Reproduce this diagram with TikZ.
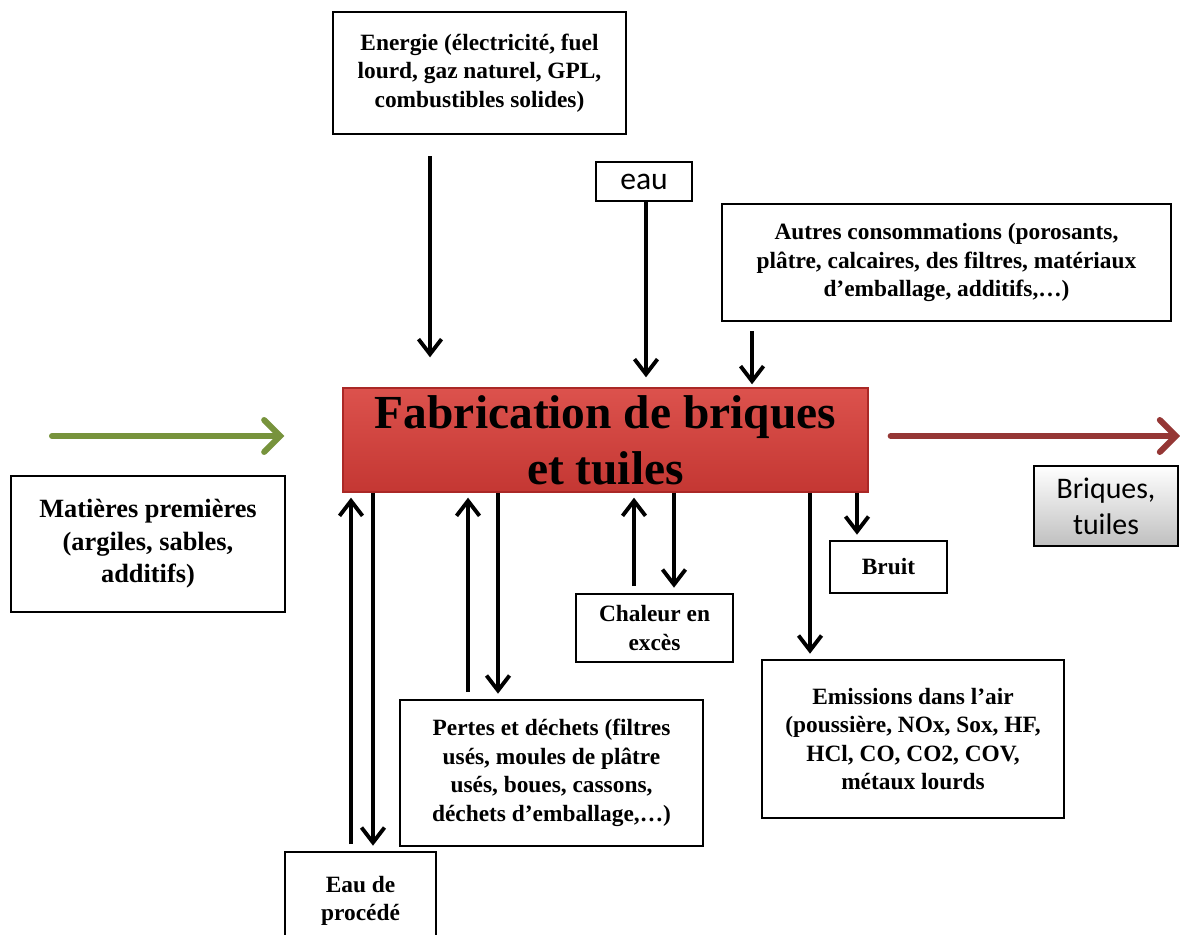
\documentclass[tikz,border=0pt]{standalone}
\usepackage{fontspec}
\setmainfont{Liberation Serif}
\newfontfamily\calibri{Carlito}
\usetikzlibrary{arrows.meta}

\definecolor{olive}{RGB}{119,147,60}
\definecolor{darkred}{RGB}{149,55,53}

\begin{document}
\begin{tikzpicture}[
  x=0.02cm,y=-0.02cm,
  arr/.style={line width=2.2pt,-{Straight Barb[length=3mm,width=4.6mm]}},
  box/.style={draw,line width=1.5pt,align=center,inner sep=0pt,font=\bfseries\fontsize{13.3}{16.2}\selectfont},
  flow/.style={line width=3.4pt,line cap=round,-{Straight Barb[length=3.2mm,width=6.4mm,line cap=round]}},
]
  \useasboundingbox (0,0) rectangle (1180,935);
  \node[box,minimum width=5.86cm,minimum height=2.44cm] (energie) at (479.5,73) {Energie (électricité, fuel\\lourd, gaz naturel, GPL,\\combustibles solides)};
  \node[box,line width=1.3pt,minimum width=1.92cm,minimum height=0.78cm,font=\calibri\fontsize{18}{21}\selectfont] (eau) at (644,181.5) {eau};
  \node[box,minimum width=8.98cm,minimum height=2.34cm] (autres) at (946.5,262.5) {Autres consommations (porosants,\\plâtre, calcaires, des filtres, matériaux\\d’emballage, additifs,\dots)};
  \node[box,draw={rgb,255:red,170;green,40;blue,38},line width=0.8pt,top color={rgb,255:red,220;green,82;blue,77},bottom color={rgb,255:red,196;green,55;blue,51},
    minimum width=10.5cm,minimum height=2.08cm,font=\bfseries\fontsize{27}{32}\selectfont] (main) at (605.5,440) {Fabrication de briques\\et tuiles};
  \node[box,line width=1.2pt,top color=white,bottom color=black!25,minimum width=2.88cm,minimum height=1.6cm,font=\calibri\fontsize{17}{20.5}\selectfont] (produit) at (1106,506) {Briques,\\tuiles};
  \node[box,minimum width=5.48cm,minimum height=2.72cm,font=\bfseries\fontsize{15}{18.5}\selectfont] (matieres) at (148,544) {Matières premières\\(argiles, sables,\\additifs)};
  \node[box,minimum width=3.02cm,minimum height=1.96cm] (eaup) at (360.5,901) {Eau de\\procédé};
  \node[box,minimum width=6.06cm,minimum height=2.92cm] (pertes) at (551.5,773) {Pertes et déchets (filtres\\usés, moules de plâtre\\usés, boues, cassons,\\déchets d’emballage,\dots)};
  \node[box,minimum width=3.14cm,minimum height=1.36cm] (chaleur) at (654.5,628) {Chaleur en\\excès};
  \node[box,minimum width=6.04cm,minimum height=3.16cm] (emissions) at (913,739) {Emissions dans l’air\\(poussière, NOx, Sox, HF,\\HCl, CO, CO2, COV,\\métaux lourds};
  \node[box,minimum width=2.34cm,minimum height=1.04cm] (bruit) at (888.5,567) {Bruit};

  % inputs from above
  \draw[arr,shorten <=0.42cm,shorten >=0.6cm] ([xshift=-0.99cm]energie.south) -- ([xshift=-0.99cm]energie.south |- main.north);
  \draw[arr,shorten >=0.2cm] ([xshift=0.04cm]eau.south) -- ([xshift=0.04cm]eau.south |- main.north);
  \draw[arr,shorten <=0.18cm,shorten >=0.06cm] ([xshift=-3.89cm]autres.south) -- ([xshift=-3.89cm]autres.south |- main.north);

  % raw material in, product out
  \coordinate (inbeg) at (52,436);
  \coordinate (outend) at (1180,436);
  \draw[flow,olive,shorten >=1.16cm] (inbeg) -- (main.west |- inbeg);
  \draw[flow,darkred,shorten <=0.44cm] (main.east |- outend) -- (outend);

  % flows below
  \foreach \b/\s in {eaup/-0.19,pertes/-1.67,chaleur/-0.41}
    \draw[arr,shorten <=0.13cm,shorten >=0.1cm] ([xshift=\s cm]\b.north) -- ([xshift=\s cm]\b.north |- main.south);
  \foreach \b/\s in {eaup/0.25,pertes/-1.07,chaleur/0.39,emissions/-2.06,bruit/-0.63}
    \draw[arr,shorten >=0.1cm] ([xshift=\s cm]\b.north |- main.south) -- ([xshift=\s cm]\b.north);
\end{tikzpicture}
\end{document}
